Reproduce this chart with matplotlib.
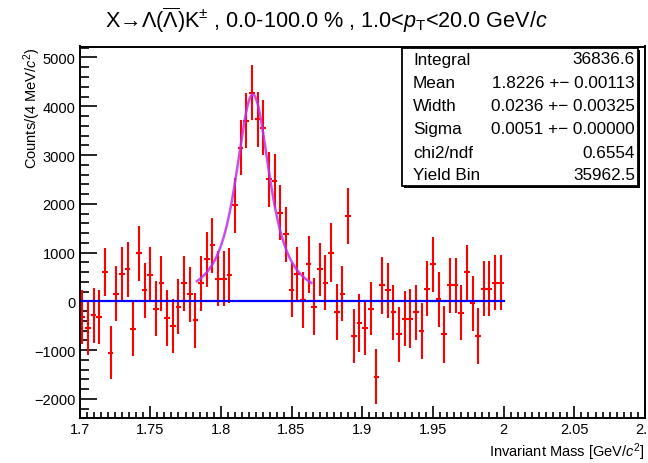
import numpy as np
import matplotlib
matplotlib.use("Agg")
import matplotlib.pyplot as plt
from matplotlib.ticker import MultipleLocator, FuncFormatter
from matplotlib.patches import Rectangle

plt.rcParams['font.family'] = ['Liberation Sans', 'DejaVu Sans']
plt.rcParams['mathtext.fontset'] = 'custom'
plt.rcParams['mathtext.rm'] = 'Liberation Sans'
plt.rcParams['mathtext.it'] = 'Liberation Sans:italic'
plt.rcParams['mathtext.bf'] = 'Liberation Sans:bold'

# ---- histogram: background-subtracted invariant mass, 4 MeV bins ----
MASS_LO = 1.70
MASS_HI = 2.00
N_BINS = 75

counts = [
    -320, -540, -287, -314, 601, -1052, 157, 553, 656, -560,
    984, 225, 546, -150, 369, -335, -505, -110, 370, 145,
    -390, 370, 860, 1150, 465, 465, 533, 1967, 3150, 3700,
    4276, 3730, 3559, 2500, 2466, 1817, 1373, 232, 553, 30,
    758, -109, 656, 383, 997, -219, 157, 1749, -710, -437,
    -540, -150, -1544, 328, 232, -219, -676, -355, -355, -219,
    -608, 260, 758, 41, -676, 328, 328, -232, 601, -41,
    -710, 260, 260, 383, 383,
]
errors = [
    560, 560, 560, 555, 500, 546, 560, 560, 563, 560,
    563, 560, 560, 565, 560, 570, 560, 560, 560, 565,
    565, 560, 565, 565, 560, 560, 565, 563, 560, 565,
    563, 565, 560, 560, 560, 565, 560, 546, 563, 580,
    590, 580, 546, 563, 600, 570, 565, 580, 546, 590,
    565, 546, 563, 590, 563, 565, 563, 565, 600, 563,
    570, 563, 560, 563, 580, 563, 563, 563, 563, 563,
    565, 563, 563, 563, 563,
]

# ---- fit result (Voigt peak + zero background) ----
FIT_MEAN = 1.8226
FIT_WIDTH = 0.0236      # Lorentzian FWHM
FIT_SIGMA = 0.0051      # Gaussian sigma
FIT_INTEGRAL = 36836.6
FIT_LO, FIT_HI = 1.783, 1.864

stats_rows = [
    ("Integral", "36836.6"),
    ("Mean", "1.8226 +\u2212 0.00113"),
    ("Width", "0.0236 +\u2212 0.00325"),
    ("Sigma", "0.0051 +\u2212 0.00000"),
    ("chi2/ndf", "0.6554"),
    ("Yield Bin", "35962.5"),
]

bin_width = (MASS_HI - MASS_LO) / N_BINS
centers = MASS_LO + bin_width * (np.arange(N_BINS) + 0.5)


def voigt(x, mean, sigma, fwhm_l):
    gam = fwhm_l / 2.0
    t = np.linspace(-8 * sigma, 8 * sigma, 1601)
    g = np.exp(-0.5 * (t / sigma) ** 2) / (sigma * np.sqrt(2 * np.pi))
    d = np.asarray(x)[:, None] - mean - t[None, :]
    lor = gam / np.pi / (d ** 2 + gam ** 2)
    return np.trapezoid(g[None, :] * lor, t, axis=1)


xf = np.linspace(FIT_LO, FIT_HI, 500)
vf = voigt(xf, FIT_MEAN, FIT_SIGMA, FIT_WIDTH)
amp = FIT_INTEGRAL * bin_width / np.trapezoid(vf, xf)
yf = amp * vf

W, H = 648, 464
fig = plt.figure(figsize=(W / 100, H / 100), dpi=100)
ax = fig.add_axes([79.5 / W, 1 - 419 / H, (645 - 79.5) / W, (419 - 47.5) / H])

ax.errorbar(centers, counts, xerr=bin_width / 2, yerr=errors, fmt='none',
            ecolor='#ff0000', elinewidth=1.5, capsize=0, zorder=2)
ax.plot([MASS_LO, MASS_HI], [0, 0], color='#0000ff', lw=1.6, zorder=2.1)
ax.plot(xf, yf, color='#c030e8', lw=1.8, alpha=0.85, zorder=2.2)

ax.set_xlim(1.7, 2.1)
ax.set_ylim(-2390, 5225)

ax.xaxis.set_major_locator(MultipleLocator(0.05))
ax.xaxis.set_minor_locator(MultipleLocator(0.005))
ax.yaxis.set_major_locator(MultipleLocator(1000))
ax.yaxis.set_minor_locator(MultipleLocator(200))
ax.xaxis.set_major_formatter(FuncFormatter(lambda v, p: f"{v:g}"))
ax.yaxis.set_major_formatter(FuncFormatter(lambda v, p: f"{v:.0f}".replace('-', '\u2212')))

ax.tick_params(axis='x', which='major', direction='in', length=8.5, width=1.2,
               labelsize=10.5, pad=3)
ax.tick_params(axis='x', which='minor', direction='in', length=4, width=1.2)
ax.tick_params(axis='y', which='major', direction='in', length=12.5, width=1.2,
               labelsize=10.5, pad=3)
ax.tick_params(axis='y', which='minor', direction='in', length=6.5, width=1.2)
ax.tick_params(top=False, right=False)
for s in ax.spines.values():
    s.set_linewidth(1.4)

fig.text(326 / W, 1 - 20 / H,
         r'X→Λ($\overline{\Lambda}$)K$^{\pm}$ , 0.0-100.0 % , '
         r'1.0<$p_{\mathrm{T}}$<20.0 GeV/$c$',
         ha='center', va='center', fontsize=15.6)
fig.text(32 / W, 1 - 47.5 / H, r'Counts/(4 MeV/$c^{2}$)', rotation=90,
         ha='center', va='top', fontsize=10.5)
fig.text(645 / W, 1 - 452.5 / H, r'Invariant Mass [GeV/$c^{2}$]',
         ha='right', va='center', fontsize=10.5)

# statistics box
bx0, bx1 = 401.7 / W, 638.3 / W
by0, by1 = 1 - 187 / H, 1 - 48.5 / H
fig.add_artist(Rectangle((bx0 + 2 / W, by0 - 2 / H), bx1 - bx0, by1 - by0,
                         transform=fig.transFigure, facecolor='black',
                         edgecolor='black', lw=0, zorder=5))
fig.add_artist(Rectangle((bx0, by0), bx1 - bx0, by1 - by0,
                         transform=fig.transFigure, facecolor='white',
                         edgecolor='black', lw=1.3, zorder=6))
row_y = [60, 83.3, 106.7, 129.3, 153.3, 176]
for (lab, val), yy in zip(stats_rows, row_y):
    fig.text(413 / W, 1 - yy / H, lab, ha='left', va='center',
             fontsize=12.3, zorder=7)
    fig.text(635 / W, 1 - yy / H, val, ha='right', va='center',
             fontsize=12.3, zorder=7)

fig.savefig('out.png', dpi=100)
